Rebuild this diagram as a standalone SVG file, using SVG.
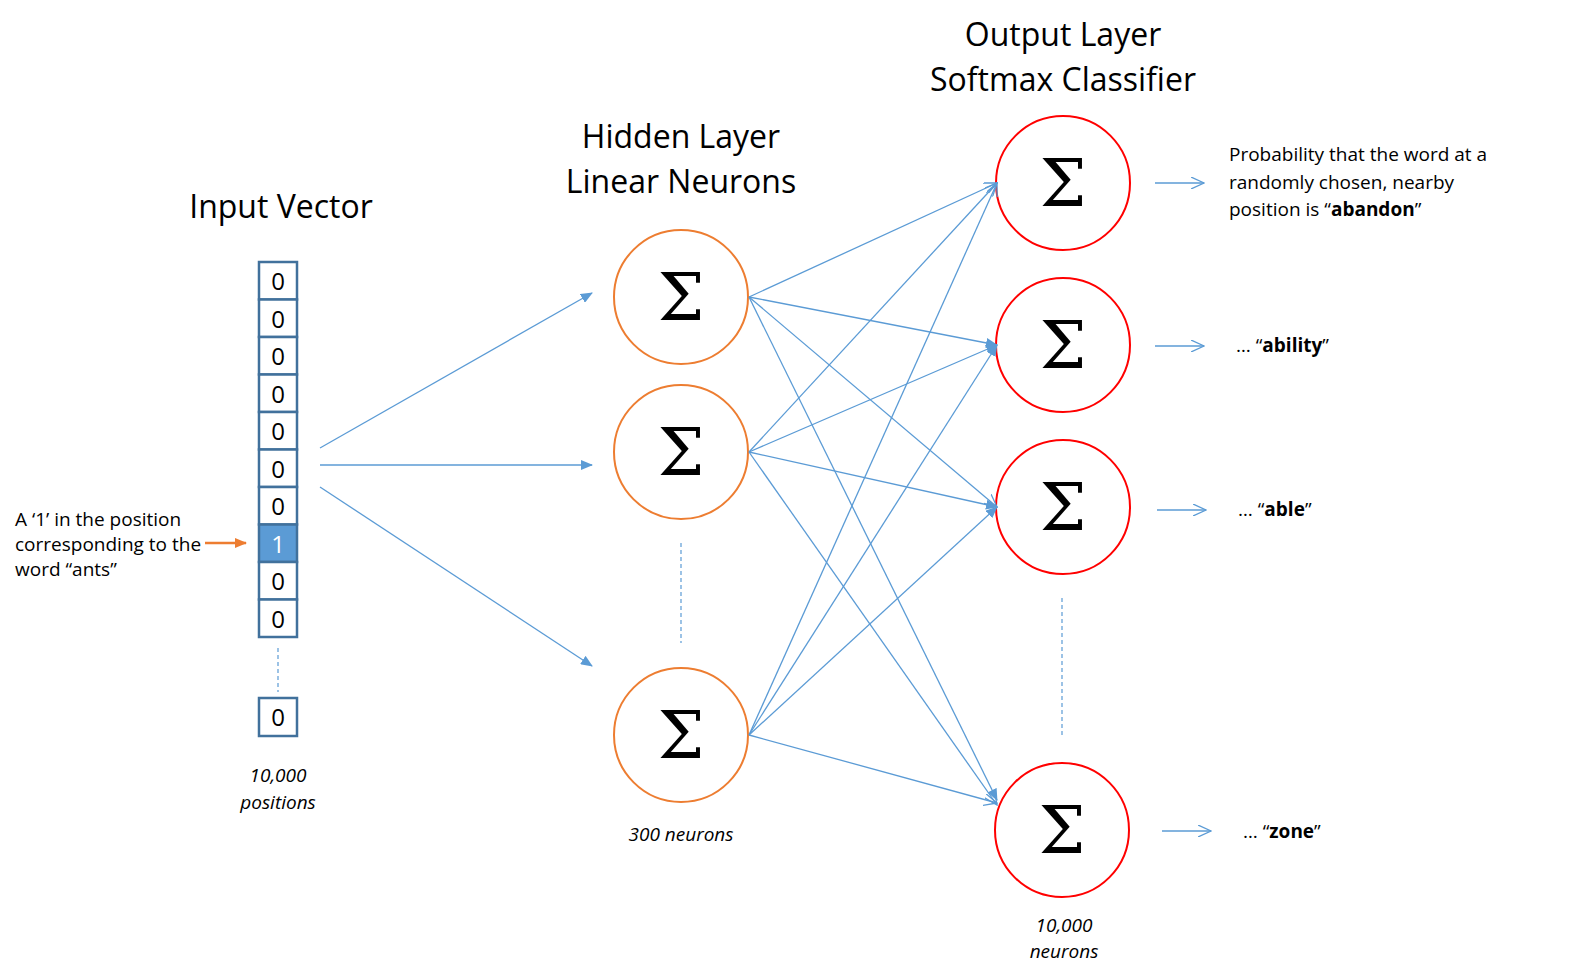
<svg xmlns="http://www.w3.org/2000/svg" width="1569" height="980" viewBox="0 0 1569 980">
<style>
text{font-family:"Open Sans","Noto Sans","Liberation Sans",sans-serif;fill:#000}
.t{font-size:32px;text-anchor:middle}
.s{font-size:19px}
.c{font-size:24px;text-anchor:middle}
.i{font-size:19px;font-style:italic;text-anchor:middle}
.box{fill:#fff;stroke:#41719c;stroke-width:2.5}
.h{fill:#fff;stroke:#ed7d31;stroke-width:2}
.o{fill:#fff;stroke:#f00;stroke-width:2}
.sig{font-family:"DejaVu Serif","Liberation Serif",serif;font-size:66px;text-anchor:middle}
.ln{stroke:#5b9bd5;stroke-width:1.3;fill:none}
.dash{stroke:#5b9bd5;stroke-width:1.2;stroke-dasharray:4 3}
</style>
<defs>
<marker id="fa" markerWidth="12" markerHeight="10" refX="11" refY="5" orient="auto" markerUnits="userSpaceOnUse"><path d="M0,0 L12,5 L0,10 Z" fill="#5b9bd5"/></marker>
<marker id="oa" markerWidth="14" markerHeight="12" refX="13" refY="6" orient="auto" markerUnits="userSpaceOnUse"><path d="M0,0 L13,6 L0,12" fill="none" stroke="#5b9bd5" stroke-width="1.3"/></marker>
<marker id="or" markerWidth="12" markerHeight="10" refX="11" refY="5" orient="auto" markerUnits="userSpaceOnUse"><path d="M0,0 L12,5 L0,10 Z" fill="#ed7d31"/></marker>
</defs>
<text class="t" x="281" y="218">Input Vector</text>
<text class="t" x="681" y="148">Hidden Layer</text>
<text class="t" x="681" y="193">Linear Neurons</text>
<text class="t" x="1063" y="46">Output Layer</text>
<text class="t" x="1063" y="91">Softmax Classifier</text>
<g id="input">
<rect class="box" x="259" y="262" width="38" height="37.5"/><text class="c" x="278" y="290">0</text>
<rect class="box" x="259" y="299.5" width="38" height="37.5"/><text class="c" x="278" y="327.5">0</text>
<rect class="box" x="259" y="337" width="38" height="37.5"/><text class="c" x="278" y="365">0</text>
<rect class="box" x="259" y="374.5" width="38" height="37.5"/><text class="c" x="278" y="402.5">0</text>
<rect class="box" x="259" y="412" width="38" height="37.5"/><text class="c" x="278" y="440">0</text>
<rect class="box" x="259" y="449.5" width="38" height="37.5"/><text class="c" x="278" y="477.5">0</text>
<rect class="box" x="259" y="487" width="38" height="37.5"/><text class="c" x="278" y="515">0</text>
<rect class="box" x="259" y="524.5" width="38" height="37.5" style="fill:#5b9bd5"/><text class="c" x="278" y="552.5" style="fill:#fff">1</text>
<rect class="box" x="259" y="562" width="38" height="37.5"/><text class="c" x="278" y="590">0</text>
<rect class="box" x="259" y="599.5" width="38" height="37.5"/><text class="c" x="278" y="627.5">0</text>
<line class="dash" x1="278" y1="648" x2="278" y2="692"/>
<rect class="box" x="259" y="698" width="38" height="38"/><text class="c" x="278" y="726">0</text>
<text class="i" x="278" y="782">10,000</text>
<text class="i" x="278" y="809">positions</text>
</g>
<g id="note">
<text class="s" x="15" y="526">A ‘1’ in the position</text>
<text class="s" x="15" y="551">corresponding to the</text>
<text class="s" x="15" y="576">word “ants”</text>
<line x1="205" y1="543" x2="246" y2="543" stroke="#ed7d31" stroke-width="2.5" marker-end="url(#or)"/>
</g>
<g id="hidden1"><circle class="h" cx="681" cy="297" r="67"/><text class="sig" x="681" y="320">Σ</text></g>
<g id="hidden2"><circle class="h" cx="681" cy="452" r="67"/><text class="sig" x="681" y="475">Σ</text></g>
<g id="hidden3"><circle class="h" cx="681" cy="735" r="67"/><text class="sig" x="681" y="758">Σ</text></g>
<line class="dash" x1="681" y1="543" x2="681" y2="643"/>
<text class="i" x="681" y="841">300 neurons</text>
<g id="out1"><circle class="o" cx="1063" cy="183" r="67"/><text class="sig" x="1063" y="206">Σ</text></g>
<g id="out2"><circle class="o" cx="1063" cy="345" r="67"/><text class="sig" x="1063" y="368">Σ</text></g>
<g id="out3"><circle class="o" cx="1063" cy="507" r="67"/><text class="sig" x="1063" y="530">Σ</text></g>
<g id="out4"><circle class="o" cx="1062" cy="830" r="67"/><text class="sig" x="1062" y="853">Σ</text></g>
<line class="dash" x1="1062" y1="598" x2="1062" y2="738"/>
<text class="i" x="1064" y="932">10,000</text>
<text class="i" x="1064" y="958">neurons</text>
<g id="labels">
<text class="s" x="1229" y="161">Probability that the word at a</text>
<text class="s" x="1229" y="189">randomly chosen, nearby</text>
<text class="s" x="1229" y="216">position is “<tspan font-weight="bold">abandon</tspan>”</text>
<text class="s" x="1236" y="352">… “<tspan font-weight="bold">ability</tspan>”</text>
<text class="s" x="1238" y="516">… “<tspan font-weight="bold">able</tspan>”</text>
<text class="s" x="1243" y="838">… “<tspan font-weight="bold">zone</tspan>”</text>
</g>
<g id="connectors">
<line class="ln" x1="320" y1="448" x2="592" y2="293" marker-end="url(#fa)"/>
<line class="ln" x1="320" y1="465" x2="592" y2="465" marker-end="url(#fa)"/>
<line class="ln" x1="320" y1="487" x2="592" y2="666" marker-end="url(#fa)"/>
<line class="ln" x1="749" y1="297" x2="997" y2="183" marker-end="url(#oa)"/>
<line class="ln" x1="749" y1="297" x2="997" y2="345" marker-end="url(#fa)"/>
<line class="ln" x1="749" y1="297" x2="997" y2="507" marker-end="url(#oa)"/>
<line class="ln" x1="749" y1="297" x2="997" y2="800" marker-end="url(#fa)"/>
<line class="ln" x1="749" y1="452" x2="997" y2="183" marker-end="url(#oa)"/>
<line class="ln" x1="749" y1="452" x2="997" y2="345" marker-end="url(#fa)"/>
<line class="ln" x1="749" y1="452" x2="997" y2="507" marker-end="url(#fa)"/>
<line class="ln" x1="749" y1="452" x2="997" y2="805" marker-end="url(#oa)"/>
<line class="ln" x1="749" y1="735" x2="997" y2="183" marker-end="url(#oa)"/>
<line class="ln" x1="749" y1="735" x2="997" y2="345" marker-end="url(#fa)"/>
<line class="ln" x1="749" y1="735" x2="997" y2="507" marker-end="url(#fa)"/>
<line class="ln" x1="749" y1="735" x2="997" y2="803" marker-end="url(#oa)"/>
<line class="ln" x1="1155" y1="183" x2="1204" y2="183" marker-end="url(#oa)"/>
<line class="ln" x1="1155" y1="346" x2="1204" y2="346" marker-end="url(#oa)"/>
<line class="ln" x1="1157" y1="510" x2="1206" y2="510" marker-end="url(#oa)"/>
<line class="ln" x1="1162" y1="831" x2="1211" y2="831" marker-end="url(#oa)"/>
</g>
</svg>
